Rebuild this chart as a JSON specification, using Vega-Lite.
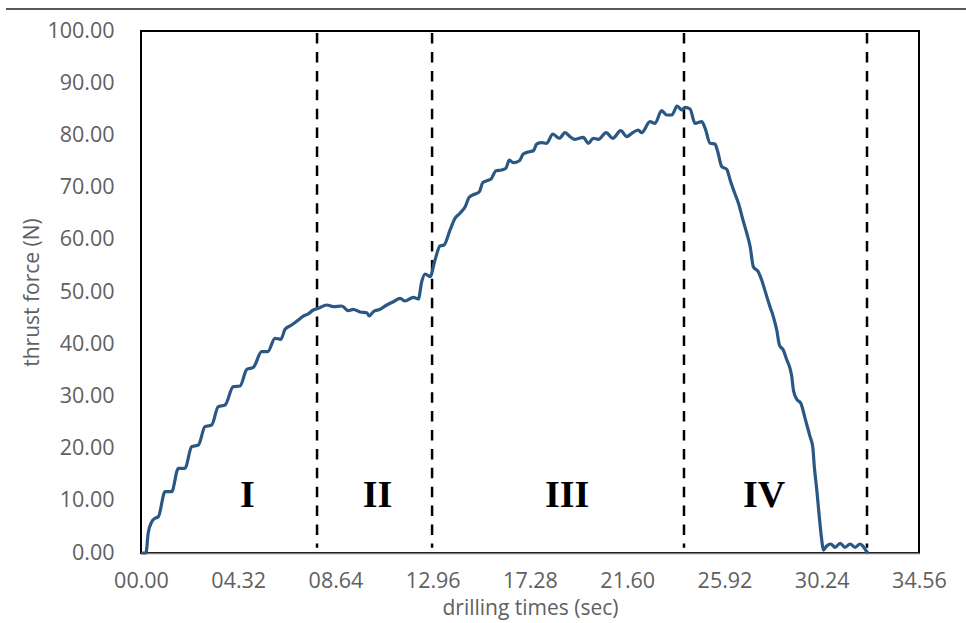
{
  "$schema": "https://vega.github.io/schema/vega-lite/v6.json",
  "width": 778,
  "height": 522,
  "autosize": {"type": "none"},
  "padding": {"left": 141, "top": 31, "right": 47, "bottom": 70},
  "background": "white",
  "config": {
    "view": {"stroke": "#000000", "strokeWidth": 2},
    "axis": {"labelFont": "Open Sans", "titleFont": "Open Sans", "labelColor": "#606060", "titleColor": "#606060", "labelFontSize": 21.5, "titleFontSize": 21, "titleFontWeight": "normal", "ticks": false, "grid": false}
  },
  "datasets": {
    "force": [
      {"t": 0, "F": 0}, {"t": 0.22, "F": 0}, {"t": 0.32, "F": 3.83}, {"t": 0.48, "F": 6.0}, {"t": 0.62, "F": 6.65}, {"t": 0.77, "F": 6.95},
      {"t": 1.07, "F": 11.74}, {"t": 1.36, "F": 11.74}, {"t": 1.66, "F": 16.23}, {"t": 1.95, "F": 16.23}, {"t": 2.25, "F": 20.36}, {"t": 2.55, "F": 20.69},
      {"t": 2.84, "F": 24.2}, {"t": 3.14, "F": 24.52}, {"t": 3.43, "F": 28.03}, {"t": 3.73, "F": 28.35}, {"t": 4.10, "F": 31.86}, {"t": 4.40, "F": 31.99},
      {"t": 4.70, "F": 35.19}, {"t": 4.99, "F": 35.57}, {"t": 5.36, "F": 38.56}, {"t": 5.63, "F": 38.56}, {"t": 5.95, "F": 41.13}, {"t": 6.21, "F": 40.94},
      {"t": 6.40, "F": 42.85}, {"t": 6.69, "F": 43.68}, {"t": 6.99, "F": 44.64}, {"t": 7.21, "F": 45.4}, {"t": 7.43, "F": 45.79}, {"t": 7.65, "F": 46.55},
      {"t": 7.88, "F": 46.88}, {"t": 8.25, "F": 47.51}, {"t": 8.54, "F": 47.18}, {"t": 8.92, "F": 47.32}, {"t": 9.21, "F": 46.42}, {"t": 9.43, "F": 46.69},
      {"t": 9.73, "F": 46.17}, {"t": 10.03, "F": 46.03}, {"t": 10.14, "F": 45.4}, {"t": 10.32, "F": 46.23}, {"t": 10.62, "F": 46.69}, {"t": 10.92, "F": 47.51},
      {"t": 11.21, "F": 48.14}, {"t": 11.51, "F": 48.79}, {"t": 11.73, "F": 48.28}, {"t": 12.10, "F": 48.98}, {"t": 12.32, "F": 48.66}, {"t": 12.47, "F": 51.97},
      {"t": 12.62, "F": 53.45}, {"t": 12.84, "F": 52.93}, {"t": 13.06, "F": 56.13}, {"t": 13.28, "F": 58.81}, {"t": 13.46, "F": 59.0}, {"t": 13.73, "F": 61.88},
      {"t": 13.95, "F": 64.12}, {"t": 14.17, "F": 65.08}, {"t": 14.40, "F": 66.34}, {"t": 14.58, "F": 68.14}, {"t": 14.84, "F": 68.77}, {"t": 15.03, "F": 69.21},
      {"t": 15.18, "F": 70.94}, {"t": 15.36, "F": 71.32}, {"t": 15.55, "F": 71.65}, {"t": 15.77, "F": 73.24}, {"t": 16.02, "F": 73.37}, {"t": 16.21, "F": 73.7},
      {"t": 16.36, "F": 75.29}, {"t": 16.54, "F": 74.77}, {"t": 16.81, "F": 75.15}, {"t": 16.98, "F": 76.44}, {"t": 17.25, "F": 76.88}, {"t": 17.43, "F": 77.07},
      {"t": 17.58, "F": 78.35}, {"t": 17.80, "F": 78.6}, {"t": 18.02, "F": 78.49}, {"t": 18.29, "F": 80.27}, {"t": 18.58, "F": 79.45}, {"t": 18.84, "F": 80.52},
      {"t": 19.06, "F": 79.75}, {"t": 19.28, "F": 79.25}, {"t": 19.65, "F": 79.64}, {"t": 19.87, "F": 78.49}, {"t": 20.09, "F": 79.44}, {"t": 20.32, "F": 79.25},
      {"t": 20.66, "F": 80.52}, {"t": 20.96, "F": 79.45}, {"t": 21.31, "F": 80.9}, {"t": 21.58, "F": 79.75}, {"t": 21.80, "F": 80.4}, {"t": 22.09, "F": 81.03},
      {"t": 22.24, "F": 80.52}, {"t": 22.61, "F": 82.62}, {"t": 22.83, "F": 82.32}, {"t": 23.13, "F": 84.73}, {"t": 23.35, "F": 83.91}, {"t": 23.58, "F": 83.91},
      {"t": 23.82, "F": 85.63}, {"t": 24.02, "F": 84.87}, {"t": 24.17, "F": 85.38}, {"t": 24.39, "F": 85.06}, {"t": 24.61, "F": 82.32}, {"t": 24.91, "F": 82.62},
      {"t": 25.06, "F": 81.36}, {"t": 25.28, "F": 78.49}, {"t": 25.50, "F": 78.35}, {"t": 25.60, "F": 77.2}, {"t": 25.80, "F": 74.0}, {"t": 26.02, "F": 73.51},
      {"t": 26.17, "F": 71.46}, {"t": 26.31, "F": 69.67}, {"t": 26.54, "F": 66.99}, {"t": 26.76, "F": 63.47}, {"t": 26.91, "F": 61.25}, {"t": 27.06, "F": 58.68},
      {"t": 27.20, "F": 54.85}, {"t": 27.42, "F": 53.89}, {"t": 27.57, "F": 52.3}, {"t": 27.80, "F": 49.1}, {"t": 27.94, "F": 47.18}, {"t": 28.09, "F": 45.27},
      {"t": 28.24, "F": 42.72}, {"t": 28.36, "F": 39.85}, {"t": 28.53, "F": 38.89}, {"t": 28.69, "F": 36.97}, {"t": 28.83, "F": 35.38}, {"t": 28.91, "F": 33.77},
      {"t": 28.98, "F": 31.23}, {"t": 29.13, "F": 29.44}, {"t": 29.31, "F": 28.68}, {"t": 29.50, "F": 25.8}, {"t": 29.72, "F": 22.28}, {"t": 29.84, "F": 20.36},
      {"t": 29.91, "F": 16.53}, {"t": 30.02, "F": 12.07}, {"t": 30.13, "F": 6.95}, {"t": 30.24, "F": 2.49}, {"t": 30.31, "F": 0.57}, {"t": 30.46, "F": 1.34},
      {"t": 30.64, "F": 1.72}, {"t": 30.83, "F": 1.09}, {"t": 31.06, "F": 1.86}, {"t": 31.27, "F": 1.09}, {"t": 31.50, "F": 1.72}, {"t": 31.72, "F": 1.09},
      {"t": 31.94, "F": 1.72}, {"t": 32.09, "F": 1.21}, {"t": 32.24, "F": 0.25}, {"t": 32.30, "F": 0}
    ],
    "bounds": [{"t": 7.82}, {"t": 12.93}, {"t": 24.12}, {"t": 32.25}],
    "stages": [
      {"label": "I", "t": 4.73, "F": 8.75},
      {"label": "II", "t": 10.51, "F": 8.75},
      {"label": "III", "t": 18.93, "F": 8.75},
      {"label": "IV", "t": 27.68, "F": 8.75}
    ]
  },
  "layer": [
    {
      "data": {"values": [{}]},
      "mark": {"type": "rule", "color": "#222222", "strokeWidth": 1.5, "clip": false},
      "encoding": {
        "x": {"datum": -6.0, "type": "quantitative", "scale": {"domain": [0, 34.56], "nice": false, "zero": false}},
        "x2": {"datum": 36.65},
        "y": {"datum": 104.2, "type": "quantitative", "scale": {"domain": [0, 100], "nice": false}}
      }
    },
    {
      "data": {"name": "bounds"},
      "mark": {"type": "rule", "color": "#000000", "strokeWidth": 2.5, "strokeDash": [10.5, 8.4]},
      "encoding": {
        "x": {"field": "t", "type": "quantitative"},
        "y": {"datum": 99.6, "type": "quantitative"},
        "y2": {"datum": 1.0}
      }
    },
    {
      "data": {"name": "force"},
      "mark": {"type": "line", "color": "#2a5783", "strokeWidth": 3.2, "interpolate": "monotone"},
      "encoding": {
        "x": {
          "field": "t", "type": "quantitative",
          "title": "drilling times (sec)",
          "axis": {"values": [0, 4.32, 8.64, 12.96, 17.28, 21.6, 25.92, 30.24, 34.56], "format": "05.2f", "labelPadding": 17, "titlePadding": 6, "domainColor": "#7f7f7f", "domainWidth": 1.5, "labelFlush": false}
        },
        "y": {
          "field": "F", "type": "quantitative",
          "title": "thrust force (N)",
          "axis": {"values": [0, 10, 20, 30, 40, 50, 60, 70, 80, 90, 100], "format": ".2f", "labelPadding": 27, "titlePadding": 4, "domain": false, "labelFlush": false}
        }
      }
    },
    {
      "data": {"name": "stages"},
      "mark": {"type": "text", "font": "Liberation Serif", "fontWeight": "bold", "fontSize": 38, "color": "#000000", "align": "center", "baseline": "alphabetic"},
      "encoding": {
        "x": {"field": "t", "type": "quantitative"},
        "y": {"field": "F", "type": "quantitative"},
        "text": {"field": "label"}
      }
    }
  ]
}
